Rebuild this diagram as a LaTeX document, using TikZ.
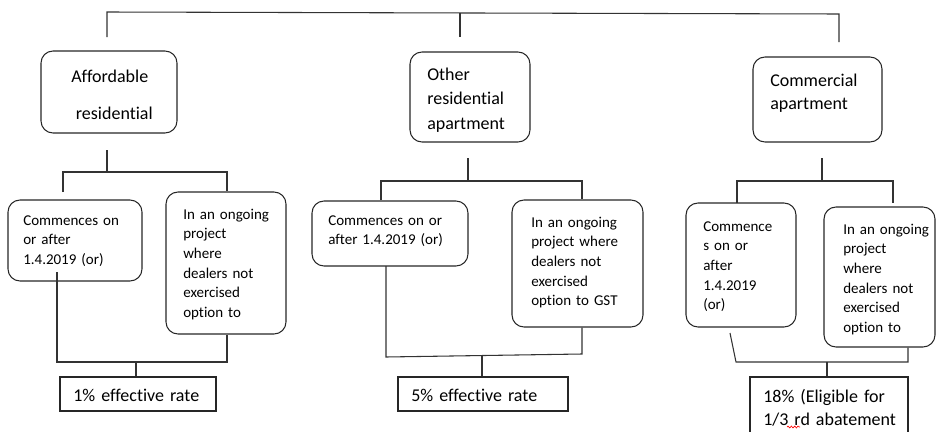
\documentclass[tikz,border=0pt]{standalone}
\usepackage{fontspec}
\setmainfont{Carlito}[Ligatures=NoCommon]
\usetikzlibrary{decorations.pathmorphing}
\tikzset{
  rbox/.style={draw=black!85, line width=0.8pt, rounded corners=9pt, inner sep=0pt},
  sbox/.style={draw=black!85, line width=0.8pt, inner sep=0pt},
  conn/.style={draw=black!80, line width=0.8pt},
  big/.style={anchor=base west, inner sep=0pt, text width=110pt, align=left, font=\fontsize{13.5}{18}\selectfont},
  small/.style={anchor=base west, inner sep=0pt, text width=90pt, align=left, font=\fontsize{11.25}{14.8}\selectfont},
}
\begin{document}
\begin{tikzpicture}[x=0.75pt, y=-0.75pt]
\useasboundingbox (0,0) rectangle (936,432);
% upper boxes
\node[rbox, minimum width=102pt, minimum height=61.5pt] (A) at (109,92) {};
\node[rbox, minimum width=90pt, minimum height=67.5pt] (O) at (470,97) {};
\node[rbox, minimum width=96.75pt, minimum height=63.75pt] (C) at (817.5,99.5) {};
\node[big, font=\fontsize{13.5}{27.75}\selectfont] (At) at (71,82) {Affordable\\\hspace*{3.5pt}residential};
\node[big, font=\fontsize{13.5}{18.4}\selectfont] (Ot) at (427,80) {Other\\residential\\apartment};
\node[big, font=\fontsize{13.5}{17.3}\selectfont] (Ct) at (770,86) {Commercial\\apartment};
% lower boxes
\node[rbox, minimum width=100.5pt, minimum height=60.75pt] (L1) at (75,240.5) {};
\node[rbox, minimum width=90pt, minimum height=106.5pt] (L2) at (226,263) {};
\node[rbox, minimum width=117pt, minimum height=48.75pt] (M1) at (390,233.5) {};
\node[rbox, minimum width=98.25pt, minimum height=95.25pt] (M2) at (577.5,263.5) {};
\node[rbox, minimum width=82.5pt, minimum height=93pt] (C1) at (741,265) {};
\node[rbox, minimum width=83.25pt, minimum height=105pt] (C2) at (879.5,277) {};
\node[small] (L1t) at (23,225) {Commences on\\or after\\1.4.2019 (or)};
\node[small] (L2t) at (183,219) {In an ongoing\\project\\where\\dealers not\\exercised\\option to};
\node[small] (M1t) at (328,225) {Commences on or\\after 1.4.2019 (or)};
\node[small] (M2t) at (531,227) {In an ongoing\\project where\\dealers not\\exercised\\option to GST};
\node[small] (C1t) at (703,231) {Commence\\s on or\\after\\1.4.2019\\(or)};
\node[small] (C2t) at (843,234) {In an ongoing\\project\\where\\dealers not\\exercised\\option to};
% result boxes
\node[sbox, minimum width=117pt, minimum height=25.5pt] (R1) at (138,394) {};
\node[sbox, minimum width=127.5pt, minimum height=25.5pt] (R2) at (483,394) {};
\node[sbox, minimum width=118.5pt, minimum height=48pt] (R3) at (829,409) {};
\node[big] (R1t) at (73,401) {1\% effective rate};
\node[big] (R2t) at (411,401) {5\% effective rate};
\node[big, font=\fontsize{13.5}{17.3}\selectfont] (R3t) at (763,402) {18\% (Eligible for\\1/3 rd abatement};
\draw[red, line width=0.5pt, decorate, decoration={snake, amplitude=0.7pt, segment length=2.5pt}] (787,427) -- (800,427);
% top connectors
\coordinate (tA) at (107,37); \coordinate (tA0) at (107,12);
\coordinate (tC0) at (839,14); \coordinate (tC) at (839,42);
\coordinate (tO0) at (460,13); \coordinate (tO) at (460,37);
\draw[conn] (tA) -- (tA0) -- (tC0) -- (tC);
\draw[conn] (tO0) -- (tO);
% left group
\coordinate (a1) at (107,150); \coordinate (a2) at (107,172);
\coordinate (a3) at (63,192); \coordinate (a4) at (63,172); \coordinate (a5) at (227,172);
\draw[conn] (a1) -- (a2);
\draw[conn] (a3) -- (a4) -- (a5) -- (L2.north -| a5);
\coordinate (b1) at (57,272); \coordinate (b2) at (57,362); \coordinate (b3) at (227,362);
\coordinate (b4) at (136,362);
\draw[conn] (b1) -- (b2) -- (b3) -- (L2.south -| b3);
\draw[conn] (b4) -- (R1.north -| b4);
% middle group
\coordinate (c1) at (468,158); \coordinate (c2) at (468,181);
\coordinate (c3) at (381,200); \coordinate (c4) at (381,181); \coordinate (c5) at (582,181);
\draw[conn] (c1) -- (c2);
\draw[conn] (c3) -- (c4) -- (c5) -- (M2.north -| c5);
\coordinate (d1) at (386,266); \coordinate (d2) at (386,357); \coordinate (d3) at (582,354);
\coordinate (d4) at (482,355.5);
\draw[conn] (d1) -- (d2) -- (d3) -- (M2.south -| d3);
\draw[conn] (d4) -- (R2.north -| d4);
% right group
\coordinate (e1) at (822,158); \coordinate (e2) at (822,181);
\coordinate (e3) at (737,203); \coordinate (e4) at (737,181); \coordinate (e5) at (893,181); \coordinate (e6) at (893,203);
\draw[conn] (e1) -- (e2);
\draw[conn] (e3) -- (e4) -- (e5) -- (e6);
\coordinate (f1) at (730,333); \coordinate (f2) at (736,362); \coordinate (f3) at (908,362);
\coordinate (f4) at (827,362);
\draw[conn] (f1) -- (f2) -- (f3) -- (C2.south -| f3);
\draw[conn] (f4) -- (R3.north -| f4);
\end{tikzpicture}
\end{document}
